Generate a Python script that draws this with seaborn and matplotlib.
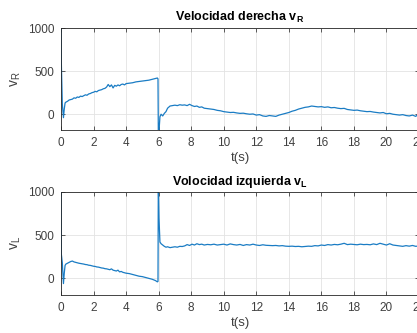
import numpy as np
import pandas as pd
import matplotlib
matplotlib.use("Agg")
import matplotlib.pyplot as plt
import seaborn as sns

# Sample times (s)
t_s = [
    0.00, 0.02, 0.08, 0.15, 0.20, 0.25, 0.30, 0.40, 0.50, 0.60,
    0.70, 0.80, 0.90, 1.00, 1.10, 1.20, 1.30, 1.40, 1.50, 1.60,
    1.70, 1.80, 1.90, 2.00, 2.10, 2.20, 2.30, 2.40, 2.50, 2.60,
    2.70, 2.80, 2.90, 3.00, 3.10, 3.20, 3.30, 3.40, 3.50, 3.60,
    3.70, 3.80, 3.90, 4.00, 4.20, 4.40, 4.60, 4.80, 5.00, 5.20,
    5.40, 5.60, 5.80, 5.92, 5.96, 5.98, 6.02, 6.08, 6.15, 6.25,
    6.35, 6.45, 6.55, 6.70, 6.85, 7.00, 7.15, 7.30, 7.45, 7.60,
    7.75, 7.90, 8.05, 8.20, 8.35, 8.50, 8.65, 8.80, 9.00, 9.20,
    9.40, 9.60, 9.80, 10.0, 10.2, 10.4, 10.6, 10.8, 11.0, 11.2,
    11.4, 11.6, 11.8, 12.0, 12.2, 12.4, 12.6, 12.8, 13.0, 13.2,
    13.4, 13.6, 13.8, 14.0, 14.2, 14.4, 14.6, 14.8, 15.0, 15.2,
    15.4, 15.6, 15.8, 16.0, 16.2, 16.4, 16.6, 16.8, 17.0, 17.2,
    17.4, 17.6, 17.8, 18.0, 18.2, 18.4, 18.6, 18.8, 19.0, 19.2,
    19.4, 19.6, 19.8, 20.0, 20.2, 20.4, 20.6, 20.8, 21.0, 21.2,
    21.4, 21.6, 21.8, 22.0,
]

# Right wheel speed
v_r = [
    1000, 600, 120, -40, 60, 130, 140, 150, 165, 170,
    175, 190, 185, 200, 195, 210, 205, 215, 225, 220,
    235, 240, 250, 255, 265, 260, 275, 280, 285, 295,
    300, 315, 345, 320, 340, 305, 335, 325, 340, 330,
    345, 350, 340, 355, 360, 365, 375, 380, 385, 390,
    395, 405, 415, 420, 410, -200, -200, -30, 0, -20,
    10, 30, 70, 95, 100, 105, 100, 110, 105, 108,
    100, 115, 100, 90, 95, 80, 85, 70, 65, 60,
    55, 45, 40, 30, 25, 20, 22, 15, 10, 12,
    5, 0, 3, -10, -5, -20, -25, -15, -20, -25,
    -10, 0, 10, 20, 35, 45, 60, 70, 80, 85,
    95, 90, 85, 88, 80, 85, 75, 78, 70, 65,
    68, 55, 50, 45, 48, 40, 35, 30, 32, 25,
    20, 15, 20, 5, 10, 0, -5, -10, -5, -15,
    -20, -10, -25, 10,
]

# Left wheel speed
v_l = [
    1000, 280, 180, -60, 60, 150, 165, 175, 185, 195,
    200, 190, 185, 180, 175, 172, 168, 165, 160, 158,
    152, 150, 145, 140, 138, 132, 130, 125, 120, 118,
    112, 110, 105, 100, 110, 95, 90, 85, 95, 75,
    80, 70, 65, 60, 55, 45, 35, 25, 20, 10,
    0, -10, -25, -40, -35, 1100, 700, 420, 400, 385,
    370, 360, 365, 355, 360, 365, 360, 370, 368, 375,
    390, 380, 395, 385, 400, 390, 395, 385, 392, 388,
    395, 385, 390, 395, 385, 398, 390, 385, 392, 380,
    390, 385, 395, 385, 380, 388, 382, 380, 378, 380,
    375, 378, 372, 370, 372, 368, 370, 365, 368, 372,
    370, 378, 375, 385, 380, 390, 385, 392, 388, 395,
    405, 390, 395, 392, 388, 395, 390, 392, 388, 398,
    390, 405, 395, 385, 400, 385, 380, 375, 370, 378,
    372, 380, 370, 375,
]

x_ticks = [0, 2, 4, 6, 8, 10, 12, 14, 16, 18, 20, 22]
y_ticks = [0, 500, 1000]

sns.set_theme(style="ticks")
plt.rcParams["font.family"] = ["Liberation Sans", "DejaVu Sans"]
plt.rcParams["mathtext.fontset"] = "custom"
plt.rcParams["mathtext.rm"] = "Liberation Sans"
plt.rcParams["mathtext.bf"] = "Liberation Sans:bold"

line_color = "#1a7cc4"
text_color = "#404040"

fig = plt.figure(figsize=(4.17, 3.33), dpi=100)
ax_top = fig.add_axes([0.1463, 0.6096, 0.8585, 0.3063])
ax_bot = fig.add_axes([0.1463, 0.1141, 0.8585, 0.3100])

df = pd.DataFrame({"t": t_s, "vR": v_r, "vL": v_l})

panels = [
    (ax_top, "vR", r"Velocidad derecha $\mathbf{v_R}$", r"$\mathregular{v_R}$", (-183, 1000)),
    (ax_bot, "vL", r"Volocidad izquierda $\mathbf{v_L}$", r"$\mathregular{v_L}$", (-192, 1000)),
]

for ax, col, title, ylab, ylim in panels:
    sns.lineplot(data=df, x="t", y=col, ax=ax, color=line_color,
                 linewidth=0.9, estimator=None, sort=False)
    ax.set_xlim(0, 22)
    ax.set_ylim(*ylim)
    ax.set_xticks(x_ticks)
    ax.set_yticks(y_ticks)
    ax.grid(True, color="#e3e3e3", linewidth=0.6)
    ax.set_axisbelow(True)
    ax.tick_params(direction="in", length=3, width=0.6, top=True, right=True,
                   labelsize=8.5, colors=text_color, pad=5)
    for side in ax.spines.values():
        side.set_color("#262626")
        side.set_linewidth(0.6)
    ax.set_title(title, fontsize=9, fontweight="bold", color="black", pad=5)
    ax.set_xlabel("t(s)", fontsize=9.5, color=text_color, labelpad=2)
    ax.set_ylabel(ylab, fontsize=10, color=text_color, labelpad=3)

fig.savefig("out.png", dpi=100)
